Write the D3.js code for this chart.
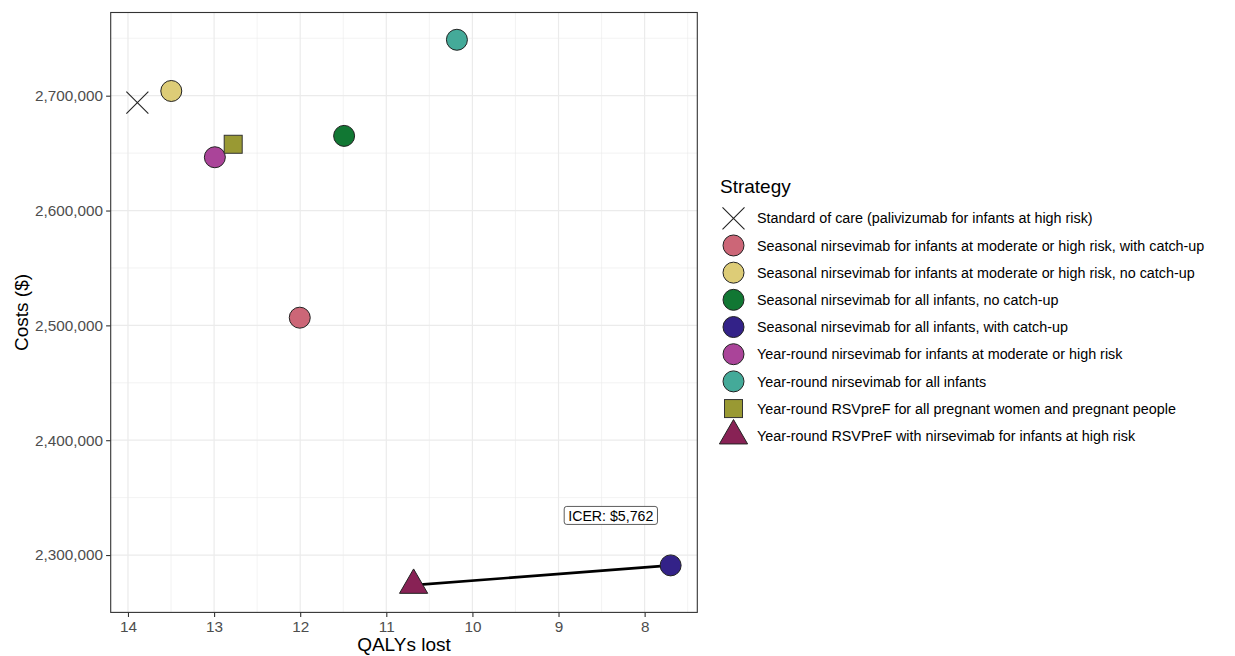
<!DOCTYPE html>
<html>
<head>
<meta charset="utf-8">
<script src="https://cdn.jsdelivr.net/npm/d3@7"></script>
<style>
  html, body { margin: 0; padding: 0; background: #fff; }
  svg { display: block; font-family: "Liberation Sans", Arial, sans-serif; }
</style>
</head>
<body>
<svg id="chart" width="1235" height="656"></svg>
<script>
// ---- Data ----
const strategies = [
  "Standard of care (palivizumab for infants at high risk)",
  "Seasonal nirsevimab for infants at moderate or high risk, with catch-up",
  "Seasonal nirsevimab for infants at moderate or high risk, no catch-up",
  "Seasonal nirsevimab for all infants, no catch-up",
  "Seasonal nirsevimab for all infants, with catch-up",
  "Year-round nirsevimab for infants at moderate or high risk",
  "Year-round nirsevimab for all infants",
  "Year-round RSVpreF for all pregnant women and pregnant people",
  "Year-round RSVPreF with nirsevimab for infants at high risk"
];
const qalysLost = [13.891, 12.005, 13.497, 11.49, 7.698, 12.991, 10.18, 12.778, 10.683];
const costs = [2693900, 2506700, 2704100, 2665000, 2291000, 2646400, 2748700, 2657700, 2273800];
const shapes = ["cross", "circle", "circle", "circle", "circle", "circle", "circle", "square", "triangle"];
const fills = ["none", "#CC6677", "#DDCC77", "#117733", "#332288", "#AA4499", "#44AA99", "#999933", "#882255"];
const xTicks = [14, 13, 12, 11, 10, 9, 8];
const yTicks = [2300000, 2400000, 2500000, 2600000, 2700000];
const frontierPair = [8, 4]; // triangle -> blue circle
const icerLabel = "ICER: $5,762";
const icerPos = [8.393, 2334500];

// ---- Layout ----
const panel = { left: 110.7, right: 697.3, top: 12.5, bottom: 612.4 };
const svg = d3.select("#chart");

function expand(ext) { const p = (ext[1] - ext[0]) * 0.05; return [ext[0] - p, ext[1] + p]; }
const xDom = expand(d3.extent(qalysLost));
const yDom = expand(d3.extent(costs));
const x = d3.scaleLinear().domain([xDom[1], xDom[0]]).range([panel.left, panel.right]);
const y = d3.scaleLinear().domain(yDom).range([panel.bottom, panel.top]);

const W = panel.right - panel.left, H = panel.bottom - panel.top;

// panel background
svg.append("rect").attr("x", panel.left).attr("y", panel.top).attr("width", W).attr("height", H).attr("fill", "#fff");

// gridlines
const grid = svg.append("g");
const xMinor = d3.range(Math.ceil(xDom[0] * 2) / 2, xDom[1], 0.5).filter(v => Math.abs(v - Math.round(v)) > 0.01);
const yMinor = d3.range(2250000, yDom[1], 100000).filter(v => v > yDom[0]);
grid.selectAll(".xmin").data(xMinor).join("line")
  .attr("x1", d => x(d)).attr("x2", d => x(d)).attr("y1", panel.top).attr("y2", panel.bottom)
  .attr("stroke", "#ebebeb").attr("stroke-width", 0.6);
grid.selectAll(".ymin").data(yMinor).join("line")
  .attr("y1", d => y(d)).attr("y2", d => y(d)).attr("x1", panel.left).attr("x2", panel.right)
  .attr("stroke", "#ebebeb").attr("stroke-width", 0.6);
grid.selectAll(".xmaj").data(xTicks).join("line")
  .attr("x1", d => x(d)).attr("x2", d => x(d)).attr("y1", panel.top).attr("y2", panel.bottom)
  .attr("stroke", "#ebebeb").attr("stroke-width", 1.2);
grid.selectAll(".ymaj").data(yTicks).join("line")
  .attr("y1", d => y(d)).attr("y2", d => y(d)).attr("x1", panel.left).attr("x2", panel.right)
  .attr("stroke", "#ebebeb").attr("stroke-width", 1.2);

// axes
const xAxis = svg.append("g").attr("transform", `translate(0,${panel.bottom})`)
  .call(d3.axisBottom(x).tickValues(xTicks).tickSize(4.6).tickPadding(4).tickFormat(d3.format("d")));
const yAxis = svg.append("g").attr("transform", `translate(${panel.left},0)`)
  .call(d3.axisLeft(y).tickValues(yTicks).tickSize(4.6).tickPadding(3).tickFormat(d3.format(",")));
[xAxis, yAxis].forEach(a => {
  a.select(".domain").remove();
  a.selectAll(".tick line").attr("stroke", "#333333").attr("stroke-width", 1.1);
  a.selectAll(".tick text").attr("fill", "#4d4d4d").style("font-size", "15.3px")
    .style("font-family", '"Liberation Sans", Arial, sans-serif');
});

// panel border
svg.append("rect").attr("x", panel.left).attr("y", panel.top).attr("width", W).attr("height", H)
  .attr("fill", "none").attr("stroke", "#333333").attr("stroke-width", 1.1);

// axis titles
svg.append("text").attr("x", (panel.left + panel.right) / 2).attr("y", 651)
  .attr("text-anchor", "middle").style("font-size", "19px").attr("fill", "#000").text("QALYs lost");
svg.append("text").attr("transform", `translate(28,${(panel.top + panel.bottom) / 2}) rotate(-90)`)
  .attr("text-anchor", "middle").style("font-size", "19px").attr("fill", "#000").text("Costs ($)");

// frontier line
const [a, b] = frontierPair;
svg.append("line")
  .attr("x1", x(qalysLost[a])).attr("y1", y(costs[a]))
  .attr("x2", x(qalysLost[b])).attr("y2", y(costs[b]))
  .attr("stroke", "#000").attr("stroke-width", 2.6);

// marker drawing
function drawMarker(g, shape, fill) {
  if (shape === "cross") {
    g.append("path").attr("d", "M-11,-11L11,11M-11,11L11,-11")
      .attr("stroke", "#222").attr("stroke-width", 1.1).attr("fill", "none");
  } else if (shape === "circle") {
    g.append("circle").attr("r", 10.5).attr("fill", fill).attr("stroke", "#222").attr("stroke-width", 1);
  } else if (shape === "square") {
    g.append("rect").attr("x", -9).attr("y", -9).attr("width", 18).attr("height", 18)
      .attr("fill", fill).attr("stroke", "#333").attr("stroke-width", 1);
  } else if (shape === "triangle") {
    g.append("path").attr("d", "M0,-16.2L14.1,8.2L-14.1,8.2Z")
      .attr("fill", fill).attr("stroke", "#222").attr("stroke-width", 1);
  }
}

const pts = svg.append("g");
strategies.forEach((s, i) => {
  const g = pts.append("g").attr("transform", `translate(${x(qalysLost[i])},${y(costs[i])})`);
  drawMarker(g, shapes[i], fills[i]);
});

// ICER label
const lab = svg.append("g").attr("transform", `translate(${x(icerPos[0])},${y(icerPos[1])})`);
const labText = lab.append("text").attr("text-anchor", "middle").attr("dy", "0.36em")
  .style("font-size", "14.2px").attr("fill", "#000").text(icerLabel);
const bb = labText.node().getBBox();
lab.insert("rect", "text").attr("x", bb.x - 4).attr("y", -9).attr("width", bb.width + 8).attr("height", 18)
  .attr("rx", 2.5).attr("fill", "#fff").attr("stroke", "#333").attr("stroke-width", 0.8);

// legend
const leg = svg.append("g");
leg.append("text").attr("x", 720).attr("y", 193).style("font-size", "19px").attr("fill", "#000").text("Strategy");
const rowY0 = 218.3, rowStep = 27.18;
strategies.forEach((s, i) => {
  const gy = rowY0 + i * rowStep;
  const g = leg.append("g").attr("transform", `translate(733.5,${gy})`);
  drawMarker(g, shapes[i], fills[i]);
  leg.append("text").attr("x", 757).attr("y", gy).attr("dy", "0.36em")
    .style("font-size", "14.35px").attr("fill", "#000").text(s);
});
</script>
</body>
</html>
